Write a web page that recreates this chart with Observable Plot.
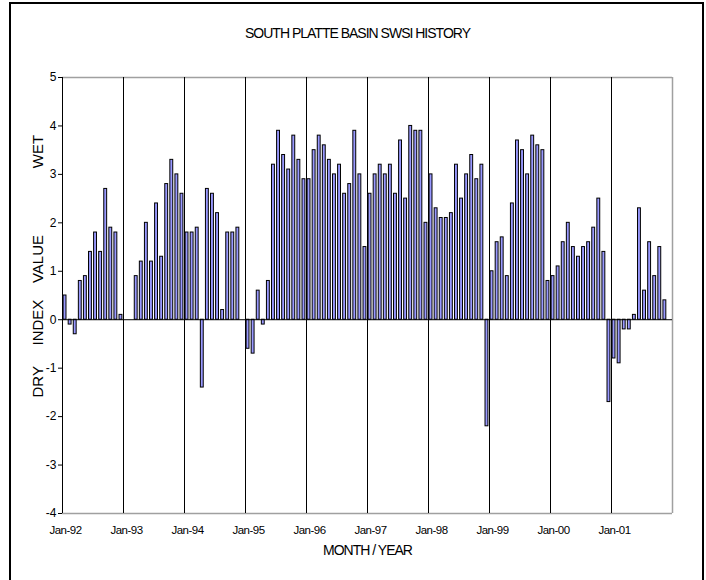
<!DOCTYPE html>
<html><head><meta charset="utf-8">
<script src="https://cdn.jsdelivr.net/npm/d3@7"></script>
<script src="https://cdn.jsdelivr.net/npm/@observablehq/plot@0.6"></script>
<style>
body{margin:0;background:#fff;overflow:hidden;}
#frame{position:absolute;left:9px;top:2px;width:695px;height:640px;border:2px solid #000;box-sizing:border-box;}
#chart{position:absolute;left:0;top:0;}
</style></head><body>
<div id="frame"></div><div id="chart"></div>
<script>
const yearLabels = ["Jan-92","Jan-93","Jan-94","Jan-95","Jan-96","Jan-97","Jan-98","Jan-99","Jan-00","Jan-01"];
const swsi1992 = [0.5,-0.1,-0.3,0.8,0.9,1.4,1.8,1.4,2.7,1.9,1.8,0.1];
const swsi1993 = [null,null,0.9,1.2,2.0,1.2,2.4,1.3,2.8,3.3,3.0,2.6];
const swsi1994 = [1.8,1.8,1.9,-1.4,2.7,2.6,2.2,0.2,1.8,1.8,1.9,null];
const swsi1995 = [-0.6,-0.7,0.6,-0.1,0.8,3.2,3.9,3.4,3.1,3.8,3.3,2.9];
const swsi1996 = [2.9,3.5,3.8,3.6,3.3,3.0,3.2,2.6,2.8,3.9,3.0,1.5];
const swsi1997 = [2.6,3.0,3.2,3.0,3.2,2.6,3.7,2.5,4.0,3.9,3.9,2.0];
const swsi1998 = [3.0,2.3,2.1,2.1,2.2,3.2,2.5,3.0,3.4,2.9,3.2,-2.2];
const swsi1999 = [1.0,1.6,1.7,0.9,2.4,3.7,3.5,3.0,3.8,3.6,3.5,0.8];
const swsi2000 = [0.9,1.1,1.6,2.0,1.5,1.3,1.5,1.6,1.9,2.5,1.4,-1.7];
const swsi2001 = [-0.8,-0.9,-0.2,-0.2,0.1,2.3,0.6,1.6,0.9,1.5,0.4,null];
const yTicks = [-4,-3,-2,-1,0,1,2,3,4,5];

const series = [swsi1992,swsi1993,swsi1994,swsi1995,swsi1996,swsi1997,swsi1998,swsi1999,swsi2000,swsi2001];
const data = series.flatMap((arr, yi) => arr.map((v, m) => ({i: yi * 12 + m, v}))).filter(d => d.v != null);
const yearStarts = yearLabels.map((_, k) => k * 12);
const nMonths = series.length * 12;

const chart = Plot.plot({
  width: 706, height: 580,
  marginLeft: 62, marginRight: 34, marginTop: 77, marginBottom: 67,
  style: {fontFamily: "'Liberation Sans', Arial, sans-serif", fontSize: "12px", background: "transparent", color: "#000"},
  x: {type: "linear", domain: [0, nMonths], axis: null},
  y: {domain: [-4, 5], axis: null},
  marks: [
    Plot.ruleY([5, -4], {stroke: "#a0a0a0", strokeWidth: 1.5}),
    Plot.ruleX([nMonths], {stroke: "#a0a0a0", strokeWidth: 1.5}),
    Plot.ruleX(yearStarts, {stroke: "#000", strokeWidth: 1}),
    Plot.rectY(data, {x1: "i", x2: d => d.i + 1, y1: 0, y2: "v", insetLeft: 1.1, insetRight: 1.1, fill: "#9999ff", stroke: "#000", strokeWidth: 1}),
    Plot.ruleY([0], {stroke: "#000", strokeWidth: 1}),
    Plot.axisY({ticks: yTicks, tickSize: 4, tickPadding: 2, tickFormat: d => String(d), label: null, fontSize: 12}),
    Plot.axisX({ticks: yearStarts, tickFormat: d => yearLabels[d / 12], tickSize: 0, tickPadding: 12, label: null, fontSize: 11.5, dx: 3}),
    Plot.text(["MONTH / YEAR"], {frameAnchor: "bottom", dy: 37, lineAnchor: "middle", fontSize: 14}),
    Plot.text(["SOUTH PLATTE BASIN SWSI HISTORY"], {frameAnchor: "top", dx: -10, dy: -44, lineAnchor: "middle", fontSize: 14}),
    Plot.text(["DRY     INDEX    VALUE                WET"], {frameAnchor: "left", dx: -24, dy: 102, rotate: -90, textAnchor: "start", lineAnchor: "middle", fontSize: 15})
  ]
});
d3.select(chart).selectAll("text").each(function() {
  const t = this.textContent;
  if (t.startsWith("DRY")) { this.style.whiteSpace = "pre"; }
  else if (t.startsWith("SOUTH") || t.startsWith("MONTH")) { this.style.letterSpacing = "-1px"; }
  else if (t.startsWith("Jan")) { this.style.letterSpacing = "-0.5px"; }
});
document.getElementById("chart").appendChild(chart);
</script>
</body></html>
